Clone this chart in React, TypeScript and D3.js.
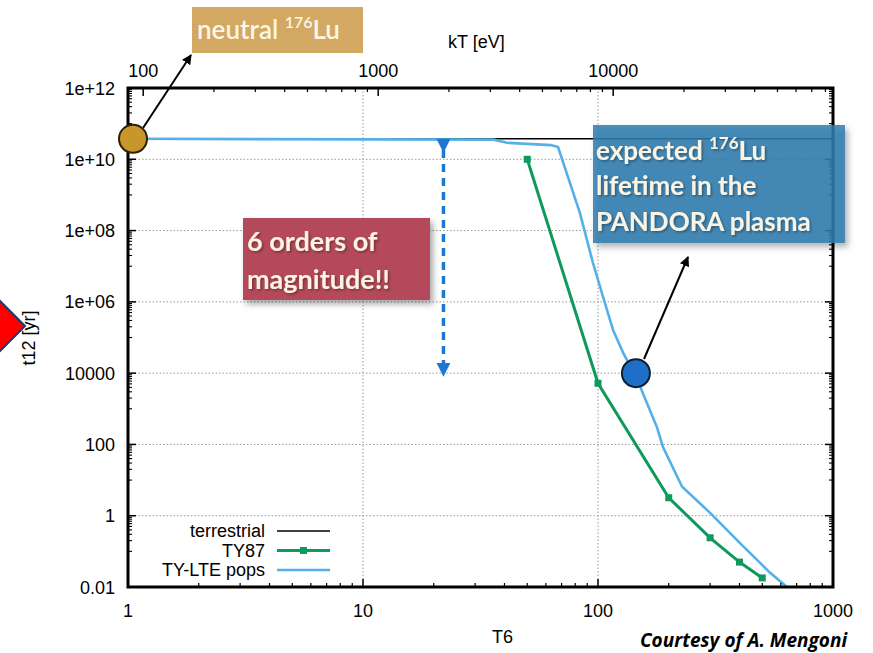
import React from 'react';
import * as d3 from 'd3';

const T6_TERRESTRIAL = [1, 1000];
const T12_TERRESTRIAL = [3.76e10, 3.76e10];
const T6_TY87 = [50, 100, 200, 300, 400, 500];
const T12_TY87 = [1e10, 5200, 3.2, 0.24, 0.05, 0.018];
const T6_LTE = [1, 36, 41, 63, 67.6, 83.8, 95.2, 105, 116, 128, 147, 178, 189, 228, 300, 402, 540, 637];
const T12_LTE = [3.76e10, 3.55e10, 2.9e10, 2.5e10, 2.2e10, 3.1e8, 1.23e7, 1.4e6, 1.6e5, 3.7e4, 6500, 310, 85, 6.5, 1.2, 0.17, 0.025, 0.01];
const X_TICKS = [1, 10, 100, 1000];
const X_TICK_LABELS = ['1', '10', '100', '1000'];
const Y_TICKS = [0.01, 1, 100, 1e4, 1e6, 1e8, 1e10, 1e12];
const Y_TICK_LABELS = ['0.01', '1', '100', '10000', '1e+06', '1e+08', '1e+10', '1e+12'];
const KT_TICKS = [100, 1000, 10000];
const KT_TICK_LABELS = ['100', '1000', '10000'];
const KT_PER_T6 = 86.17;
const LEGEND = ['terrestrial', 'TY87', 'TY-LTE pops'];

const W = 873, H = 653;
const L = 128, R = 833, T = 88, B = 587;

export default function App() {
  const x = d3.scaleLog().domain([1, 1000]).range([L, R]);
  const y = d3.scaleLog().domain([0.01, 1e12]).range([B, T]);
  const xt = d3.scaleLog().domain([KT_PER_T6, KT_PER_T6 * 1000]).range([L, R]);

  const line = d3.line<[number, number]>().x(d => x(d[0])).y(d => y(d[1]));
  const terr = line(T6_TERRESTRIAL.map((v, i) => [v, T12_TERRESTRIAL[i]]))!;
  const ty87 = line(T6_TY87.map((v, i) => [v, T12_TY87[i]]))!;
  const lte = line(T6_LTE.map((v, i) => [v, T12_LTE[i]]))!;

  const xMinor: number[] = [];
  for (let k = 0; k < 3; k++) for (let m = 2; m <= 9; m++) xMinor.push(m * 10 ** k);
  const ktMinor: number[] = [];
  for (let k = 2; k < 5; k++) for (let m = 2; m <= 9; m++) {
    const v = m * 10 ** k;
    if (v < KT_PER_T6 * 1000) ktMinor.push(v);
  }
  const yMinor: number[] = [];
  for (let k = -1; k <= 5; k++) for (let m = 1; m <= 9; m++) yMinor.push(m * 10 ** (2 * k + 1));

  const tickFont = { fontFamily: 'Liberation Sans, Arial, sans-serif', fontSize: 18 };
  const boxFont = { fontFamily: 'Lato, Open Sans, sans-serif', fontWeight: 700 as const };
  const cream = '#fbf4e2';

  return (
    <svg width={W} height={H} style={{ position: 'absolute', left: 0, top: 0, background: '#fff' }}>
      <defs>
        <filter id="sh" x="-10%" y="-10%" width="130%" height="140%">
          <feDropShadow dx="3" dy="4" stdDeviation="3" floodColor="#000" floodOpacity="0.35" />
        </filter>
        <filter id="tsh" x="-5%" y="-20%" width="115%" height="150%">
          <feDropShadow dx="1.5" dy="1.5" stdDeviation="1" floodColor="#000" floodOpacity="0.35" />
        </filter>
        <marker id="ah" viewBox="0 0 10 10" refX="9" refY="5" markerWidth="5" markerHeight="5" orient="auto">
          <path d="M0,0 L10,5 L0,10 z" fill="#000" />
        </marker>
        <marker id="ab" viewBox="0 0 10 10" refX="8" refY="5" markerWidth="4" markerHeight="4" orient="auto">
          <path d="M0,0 L10,5 L0,10 z" fill="#1e78d2" />
        </marker>
        <clipPath id="plot"><rect x={L} y={T} width={R - L} height={B - T} /></clipPath>
      </defs>
      <rect width={W} height={H} fill="#fff" />

      {/* grid */}
      {Y_TICKS.slice(1, -1).map(v => (
        <line key={'gy' + v} x1={L} x2={R} y1={y(v)} y2={y(v)} stroke="#999" strokeWidth={1} strokeDasharray="1.5,2" />
      ))}
      {X_TICKS.slice(1, -1).map(v => (
        <line key={'gx' + v} x1={x(v)} x2={x(v)} y1={T} y2={B} stroke="#999" strokeWidth={1} strokeDasharray="1.5,2" />
      ))}

      {/* series */}
      <g clipPath="url(#plot)">
        <path d={terr} fill="none" stroke="#000" strokeWidth={1.6} />
        <path d={lte} fill="none" stroke="#56b0e8" strokeWidth={2.6} />
        <path d={ty87} fill="none" stroke="#0f9a5c" strokeWidth={3} />
        {T6_TY87.map((v, i) => (
          <rect key={'m' + v} x={x(v) - 3.5} y={y(T12_TY87[i]) - 3.5} width={7} height={7} fill="#0f9a5c" />
        ))}
      </g>

      {/* frame */}
      <rect x={L} y={T} width={R - L} height={B - T} fill="none" stroke="#000" strokeWidth={3} />

      {/* ticks */}
      {X_TICKS.map(v => (
        <line key={'xt' + v} x1={x(v)} x2={x(v)} y1={B} y2={B - 8} stroke="#000" strokeWidth={1.5} />
      ))}
      {xMinor.map(v => (
        <line key={'xm' + v} x1={x(v)} x2={x(v)} y1={B} y2={B - 4} stroke="#000" strokeWidth={1.2} />
      ))}
      {KT_TICKS.map(v => (
        <line key={'kt' + v} x1={xt(v)} x2={xt(v)} y1={T} y2={T + 8} stroke="#000" strokeWidth={1.5} />
      ))}
      {ktMinor.map(v => (
        <line key={'km' + v} x1={xt(v)} x2={xt(v)} y1={T} y2={T + 4} stroke="#000" strokeWidth={1.2} />
      ))}
      {Y_TICKS.map(v => (
        <g key={'yt' + v}>
          <line x1={L} x2={L + 8} y1={y(v)} y2={y(v)} stroke="#000" strokeWidth={1.5} />
          <line x1={R} x2={R - 8} y1={y(v)} y2={y(v)} stroke="#000" strokeWidth={1.5} />
        </g>
      ))}
      {yMinor.map(v => (
        <g key={'ym' + v}>
          <line x1={L} x2={L + 4} y1={y(v)} y2={y(v)} stroke="#000" strokeWidth={1.1} />
          <line x1={R} x2={R - 4} y1={y(v)} y2={y(v)} stroke="#000" strokeWidth={1.1} />
        </g>
      ))}

      {/* tick labels */}
      {X_TICKS.map((v, i) => (
        <text key={'xl' + v} x={x(v)} y={617} textAnchor="middle" {...tickFont}>{X_TICK_LABELS[i]}</text>
      ))}
      {KT_TICKS.map((v, i) => (
        <text key={'kl' + v} x={xt(v)} y={77} textAnchor="middle" {...tickFont}>{KT_TICK_LABELS[i]}</text>
      ))}
      {Y_TICKS.map((v, i) => (
        <text key={'yl' + v} x={115} y={y(v) + 6.5} textAnchor="end" {...tickFont}>{Y_TICK_LABELS[i]}</text>
      ))}

      {/* axis titles */}
      <text x={448} y={48} {...tickFont}>kT [eV]</text>
      <text x={492} y={643} {...tickFont}>T6</text>

      {/* red diamond on left edge */}
      <polygon points="25,326 -20,281 -65,326 -20,371" fill="#ff0000" stroke="#1f3864" strokeWidth={2} />
      <text transform="translate(35,338) rotate(-90)" textAnchor="middle" {...tickFont}>t12 [yr]</text>

      {/* legend */}
      {LEGEND.map((name, i) => (
        <text key={name} x={265} y={537 + i * 19.5} textAnchor="end" {...tickFont}>{name}</text>
      ))}
      <line x1={277} x2={330} y1={531} y2={531} stroke="#000" strokeWidth={1.6} />
      <line x1={277} x2={330} y1={550.5} y2={550.5} stroke="#0f9a5c" strokeWidth={3} />
      <rect x={300} y={547} width={7} height={7} fill="#0f9a5c" />
      <line x1={277} x2={330} y1={570} y2={570} stroke="#56b0e8" strokeWidth={2.6} />

      {/* dashed double arrow */}
      <line x1={x(22)} x2={x(22)} y1={150} y2={374} stroke="#1e78d2" strokeWidth={3.5} strokeDasharray="8,6" markerStart="url(#ab)" markerEnd="url(#ab)" />

      {/* neutral Lu annotation */}
      <rect x={192} y={7} width={171} height={46} fill="#d3a862" />
      <text x={197} y={39} fill="#fbf6e6" fontFamily="Lato, Open Sans, sans-serif" fontWeight={600} fontSize={26}>
        neutral <tspan fontSize={16} dy={-11}>176</tspan><tspan dy={11}>Lu</tspan>
      </text>
      <line x1={143} y1={128} x2={191} y2={55} stroke="#000" strokeWidth={2} markerEnd="url(#ah)" />
      <circle cx={x(1) + 5} cy={y(3.76e10)} r={14} fill="#c8962a" stroke="#2a2208" strokeWidth={2} />

      {/* 6 orders box */}
      <g filter="url(#sh)">
        <rect x={243} y={218} width={187} height={82} fill="#b5495c" />
      </g>
      <g filter="url(#tsh)">
        <text x={247} y={251} fill={cream} fontSize={27} {...boxFont}>6 orders of</text>
        <text x={247} y={289} fill={cream} fontSize={27} {...boxFont}>magnitude!!</text>
      </g>

      {/* PANDORA box */}
      <g filter="url(#sh)">
        <rect x={593} y={125} width={252} height={118} fill="#2f7db0" fillOpacity={0.85} />
      </g>
      <g filter="url(#tsh)">
        <text x={596} y={160} fill={cream} fontSize={26} {...boxFont}>
          expected <tspan fontSize={17} dy={-11}>176</tspan><tspan dy={11}>Lu</tspan>
        </text>
        <text x={596} y={195} fill={cream} fontSize={26} {...boxFont}>lifetime in the</text>
        <text x={596} y={231} fill={cream} fontSize={26} {...boxFont}>PANDORA plasma</text>
      </g>
      <line x1={644} y1={359} x2={688} y2={257} stroke="#000" strokeWidth={2} markerEnd="url(#ah)" />
      <circle cx={x(145)} cy={y(1e4)} r={14} fill="#1f6fc8" stroke="#0d1e33" strokeWidth={2} />

      <text x={640} y={647} fontFamily="Open Sans, sans-serif" fontWeight={700} fontStyle="italic" fontSize={19}>Courtesy of A. Mengoni</text>
    </svg>
  );
}
